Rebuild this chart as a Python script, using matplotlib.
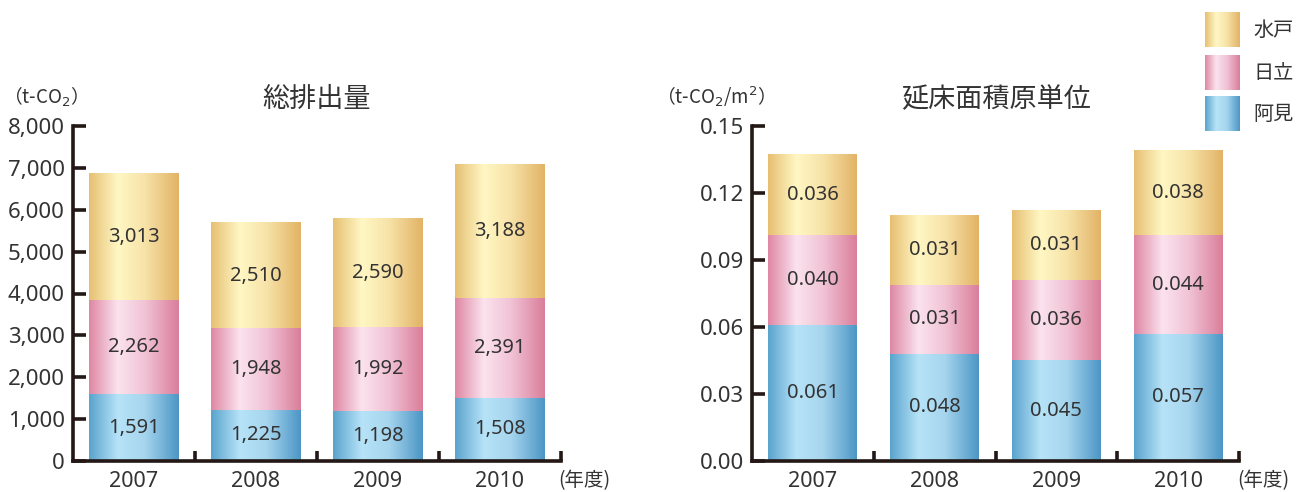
import numpy as np
import matplotlib
matplotlib.use("Agg")
import matplotlib.pyplot as plt
from matplotlib.colors import LinearSegmentedColormap

plt.rcParams['font.family'] = ['Noto Sans', 'Noto Sans CJK JP', 'DejaVu Sans']

years = ['2007', '2008', '2009', '2010']
series_names = ['阿見', '日立', '水戸']  # bottom to top

total_ami = [1591, 1225, 1198, 1508]
total_hitachi = [2262, 1948, 1992, 2391]
total_mito = [3013, 2510, 2590, 3188]

unit_ami = [0.061, 0.048, 0.045, 0.057]
unit_hitachi = [0.040, 0.031, 0.036, 0.044]
unit_mito = [0.036, 0.031, 0.031, 0.038]

left_ticks = [0, 1000, 2000, 3000, 4000, 5000, 6000, 7000, 8000]
right_ticks = [0.00, 0.03, 0.06, 0.09, 0.12, 0.15]

# gradient colours: left edge, highlight, right edge
grad_colors = {
    '阿見': ['#5AA3CD', '#B6E3F7', '#A6D5EE', '#4C96C5'],
    '日立': ['#DE87A3', '#FBE3EE', '#F1C3D5', '#DA7E9B'],
    '水戸': ['#E6BF72', '#FFF7C4', '#F7E3A8', '#E2B366'],
}
cmaps = {k: LinearSegmentedColormap.from_list(k, list(zip([0, 0.32, 0.62, 1.0], v)))
         for k, v in grad_colors.items()}
grad = np.linspace(0, 1, 256).reshape(1, -1)

TXT = '#333333'
AX = '#231815'

fig = plt.figure(figsize=(12.98, 4.92), dpi=100)
W, H = 1298, 492


def make_axes(x0, x1, y_top, y_bot):
    return fig.add_axes([x0 / W, (H - y_bot) / H, (x1 - x0) / W, (y_bot - y_top) / H])


def draw_panel(ax, data, ymax, ticks, fmt, labfmt, title, unit_text, unit_x, nendo_x):
    bw = 0.73
    x = np.arange(len(years))
    bottoms = np.zeros(len(years))
    for name, vals in zip(series_names, data):
        vals = np.array(vals, dtype=float)
        for i in range(len(years)):
            b, t = bottoms[i], bottoms[i] + vals[i]
            ax.imshow(grad, cmap=cmaps[name], extent=[x[i] - bw / 2, x[i] + bw / 2, b, t],
                      aspect='auto', interpolation='bicubic', zorder=2)
            ax.text(x[i], (b + t) / 2, labfmt(vals[i]), ha='center', va='center',
                    fontsize=14.5, color=TXT, zorder=3)
        bottoms += vals
    ax.set_xlim(-0.5, 3.5)
    ax.set_ylim(0, ymax)
    for s in ['top', 'right']:
        ax.spines[s].set_visible(False)
    for s in ['left', 'bottom']:
        ax.spines[s].set_linewidth(2.6)
        ax.spines[s].set_color(AX)
    ax.set_yticks(ticks)
    ax.set_yticklabels([fmt(t) for t in ticks])
    ax.tick_params(axis='y', direction='in', length=9, width=2.6, color=AX,
                   labelsize=16, labelcolor=TXT, pad=6)
    ax.set_xticks(x)
    ax.set_xticklabels(years)
    ax.tick_params(axis='x', length=0, labelsize=15.5, labelcolor=TXT, pad=7)
    ax.set_xticks([0.5, 1.5, 2.5, 3.5], minor=True)
    ax.tick_params(axis='x', which='minor', direction='in', length=7, width=2.6, color=AX)
    ax.text(0.5, 1.078, title, transform=ax.transAxes, ha='center', va='center',
            fontsize=19.5, color=TXT, family=['Noto Sans CJK JP'])
    fig.text(unit_x / W, (H - 97) / H, unit_text, ha='left', va='center',
             fontsize=13.5, color=TXT, family=['Noto Sans CJK JP', 'DejaVu Sans'])
    fig.text(nendo_x / W, (H - 481) / H, '(年度)', ha='left', va='center',
             fontsize=14, color=TXT, family=['Noto Sans CJK JP'])


ax1 = make_axes(73, 561, 126, 461)
draw_panel(ax1, [total_ami, total_hitachi, total_mito], 8000, left_ticks,
           lambda t: f'{t:,.0f}', lambda v: f'{v:,.0f}', '総排出量',
           '（t-CO$_2$）', 3, 558)

ax2 = make_axes(752, 1239, 126, 461)
draw_panel(ax2, [unit_ami, unit_hitachi, unit_mito], 0.15, right_ticks,
           lambda t: f'{t:.2f}', lambda v: f'{v:.3f}', '延床面積原単位',
           '（t-CO$_2$/m$^2$）', 656, 1237)

# legend
leg_items = [('水戸', 12), ('日立', 55), ('阿見', 96)]
for name, ytop in leg_items:
    lax = fig.add_axes([1205 / W, (H - ytop - 35) / H, 35 / W, 35 / H])
    lax.imshow(grad, cmap=cmaps[name], aspect='auto', interpolation='bicubic')
    lax.set_axis_off()
    fig.text(1253 / W, (H - ytop - 18) / H, name, ha='left', va='center',
             fontsize=14.5, color=TXT, family=['Noto Sans CJK JP'])

fig.savefig('out.png', dpi=100)
